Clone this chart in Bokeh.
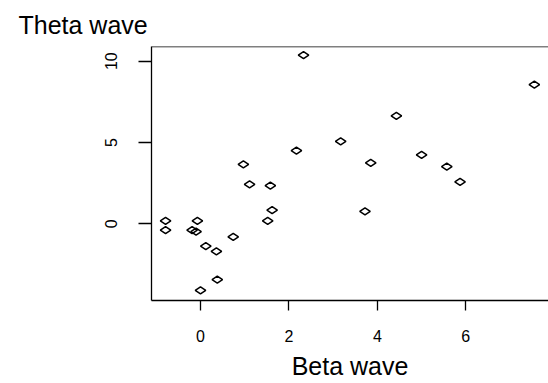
from bokeh.plotting import figure
from bokeh.models import Range1d, FixedTicker, Span
from bokeh.embed import file_html
from bokeh.resources import INLINE

beta = [-0.79, -0.79, -0.07, -0.19, -0.10, 0.12, 0.36, 0.74, 0.38, 0.00,
        0.97, 1.11, 1.58, 1.62, 1.52, 2.17, 2.33, 3.17, 3.85, 3.72,
        4.43, 5.00, 5.57, 5.87, 7.55]
theta = [0.18, -0.39, 0.18, -0.39, -0.49, -1.38, -1.70, -0.80, -3.44, -4.10,
         3.65, 2.42, 2.34, 0.84, 0.18, 4.49, 10.37, 5.06, 3.75, 0.76,
         6.64, 4.24, 3.51, 2.58, 8.55]
x_ticks = [0, 2, 4, 6]
y_ticks = [0, 5, 10]

FONT = "Liberation Sans"

p = figure(width=548, height=383, output_backend="svg", toolbar_location=None,
           x_range=Range1d(-1.108, 7.870), y_range=Range1d(-4.72, 10.90),
           min_border_left=151, min_border_right=0, min_border_top=46,
           min_border_bottom=83)
p.background_fill_color = "white"
p.border_fill_color = "white"
p.outline_line_color = None
p.grid.visible = False

p.title.text = "Theta wave"
p.title.text_font = FONT
p.title.text_font_size = "25px"
p.title.text_font_style = "normal"
p.title.text_color = "black"
p.title.align = "left"
p.title.offset = -133
p.title.standoff = 16

for ax in (p.xaxis[0], p.yaxis[0]):
    ax.axis_line_color = "black"
    ax.axis_line_width = 1.3
    ax.major_tick_line_color = "black"
    ax.major_tick_line_width = 1.3
    ax.minor_tick_line_color = None
    ax.major_tick_in = 0
    ax.major_label_text_font = FONT
    ax.major_label_text_font_size = "16px"
    ax.major_label_text_color = "black"

p.xaxis[0].ticker = FixedTicker(ticks=x_ticks)
p.xaxis[0].major_tick_out = 10
p.xaxis[0].major_label_standoff = 19
p.xaxis[0].axis_label = "Beta wave"
p.xaxis[0].axis_label_text_font = FONT
p.xaxis[0].axis_label_text_font_size = "25px"
p.xaxis[0].axis_label_text_font_style = "normal"
p.xaxis[0].axis_label_text_color = "black"
p.xaxis[0].axis_label_standoff = 7

p.yaxis[0].ticker = FixedTicker(ticks=y_ticks)
p.yaxis[0].major_tick_out = 13
p.yaxis[0].major_label_orientation = "vertical"
p.yaxis[0].major_label_standoff = 21

top_line = Span(location=10.90, dimension="width", line_color="black", line_width=1.3)
p.add_layout(top_line)

p.scatter(beta, theta, marker="diamond", size=10.5, angle=1.5708,
          fill_color=None, line_color="black", line_width=1.5)

open("out.html", "w").write(file_html(p, INLINE))
